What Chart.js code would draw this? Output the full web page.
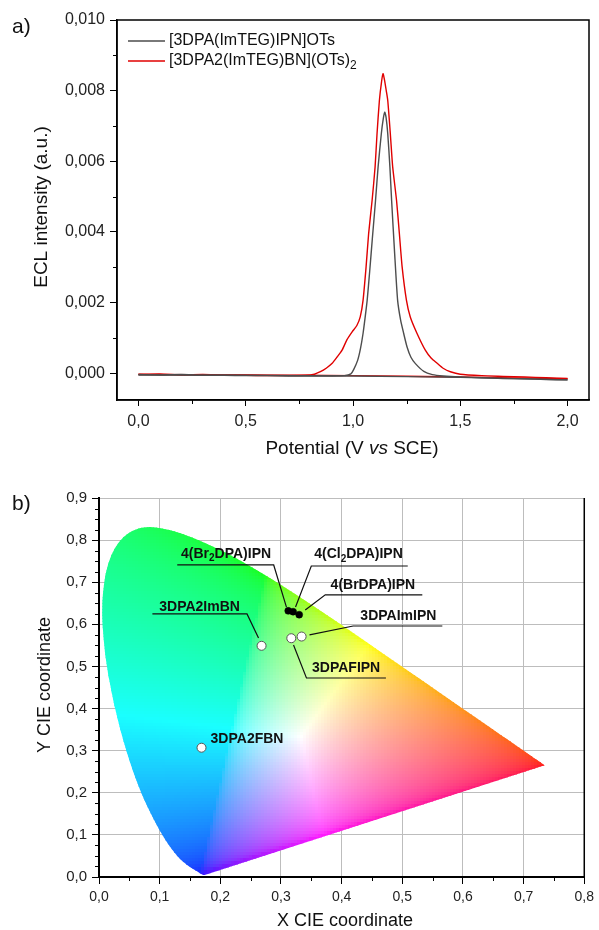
<!DOCTYPE html>
<html>
<head>
<meta charset="utf-8">
<script src="https://cdn.jsdelivr.net/npm/chart.js@4.4.0/dist/chart.umd.min.js"></script>
<style>
  html, body { margin: 0; padding: 0; background: #fff; }
  .wrap { position: relative; width: 599px; height: 930px; }
  .box { position: absolute; left: 0; width: 599px; height: 465px; }
</style>
</head>
<body>
<div class="wrap">
  <div class="box" style="top:0"><canvas id="eclChart" width="599" height="465"></canvas></div>
  <div class="box" style="top:465px"><canvas id="cieChart" width="599" height="465"></canvas></div>
</div>
<script>
const FONT = "'Liberation Sans', Arial, sans-serif";

// ---- a) ECL curves, intensities in 10^-3 a.u.
const ECL_UNIT = 1e-3;
const grayPotential = [0.00, 0.10, 0.20, 0.30, 0.40, 0.50, 0.60, 0.70, 0.80, 0.90, 0.96, 0.99, 1.003, 1.022, 1.035, 1.047, 1.056, 1.066, 1.078, 1.090, 1.105, 1.117, 1.132, 1.141, 1.148, 1.154, 1.162, 1.172, 1.180, 1.194, 1.208, 1.222, 1.236, 1.252, 1.270, 1.291, 1.330, 1.37, 1.42, 1.50, 1.60, 1.70, 1.80, 1.90, 2.00];
const grayIntensity = [-0.04, -0.05, -0.04, -0.06, -0.06, -0.07, -0.07, -0.08, -0.08, -0.08, -0.07, -0.02, 0.10, 0.37, 0.70, 1.13, 1.55, 2.06, 2.90, 3.80, 4.89, 5.84, 6.78, 7.20, 7.39, 7.25, 6.78, 5.84, 4.89, 3.40, 2.06, 1.50, 1.13, 0.74, 0.45, 0.27, 0.05, -0.04, -0.08, -0.11, -0.13, -0.15, -0.16, -0.18, -0.19];
const grayReturnPotential = [2.00, 1.50, 1.00, 0.50, 0.00];
const grayReturnIntensity = [-0.19, -0.12, -0.08, -0.06, -0.05];

const redPotential = [0.00, 0.10, 0.20, 0.30, 0.40, 0.50, 0.60, 0.70, 0.78, 0.82, 0.848, 0.875, 0.903, 0.925, 0.949, 0.972, 0.996, 1.018, 1.034, 1.047, 1.061, 1.073, 1.089, 1.103, 1.112, 1.123, 1.133, 1.140, 1.147, 1.155, 1.162, 1.174, 1.185, 1.203, 1.216, 1.229, 1.249, 1.267, 1.298, 1.337, 1.365, 1.392, 1.42, 1.454, 1.50, 1.60, 1.70, 1.80, 1.90, 2.00];
const redIntensity = [-0.03, -0.02, -0.05, -0.04, -0.06, -0.06, -0.07, -0.07, -0.06, -0.03, 0.04, 0.14, 0.28, 0.45, 0.65, 0.95, 1.17, 1.35, 1.60, 2.07, 3.01, 3.96, 4.89, 5.84, 6.78, 7.72, 8.25, 8.48, 8.30, 8.00, 7.72, 6.78, 5.84, 4.89, 3.96, 3.01, 2.07, 1.59, 1.13, 0.65, 0.42, 0.28, 0.14, 0.04, -0.03, -0.07, -0.09, -0.11, -0.13, -0.15];
const redReturnPotential = [2.00, 1.50, 1.00, 0.50, 0.00];
const redReturnIntensity = [-0.16, -0.11, -0.07, -0.05, -0.04];

const eclNames = ['[3DPA(ImTEG)IPN]OTs', '[3DPA2(ImTEG)BN](OTs)_2'];
const eclXTicks = [0, 0.5, 1.0, 1.5, 2.0];
const eclXMinor = [0.25, 0.75, 1.25, 1.75];
const eclYTicks = [0, 0.002, 0.004, 0.006, 0.008, 0.010];
const eclYMinor = [0.001, 0.003, 0.005, 0.007, 0.009];

// ---- b) CIE 1931 diagram
const locusX = [0.1741, 0.1740, 0.1738, 0.1736, 0.1733, 0.1730, 0.1726, 0.1721, 0.1714, 0.1703, 0.1689, 0.1669, 0.1644, 0.1611, 0.1566, 0.1510, 0.1440, 0.1355, 0.1241, 0.1096, 0.0913, 0.0687, 0.0454, 0.0235, 0.0082, 0.0039, 0.0139, 0.0389, 0.0743, 0.1142, 0.1547, 0.1929, 0.2296, 0.2658, 0.3016, 0.3373, 0.3731, 0.4087, 0.4441, 0.4788, 0.5125, 0.5448, 0.5752, 0.6029, 0.6270, 0.6482, 0.6658, 0.6801, 0.6915, 0.7006, 0.7079, 0.7140, 0.7190, 0.7230, 0.7260, 0.7283, 0.7300, 0.7311, 0.7320, 0.7334, 0.7347];
const locusY = [0.0050, 0.0050, 0.0049, 0.0049, 0.0048, 0.0048, 0.0048, 0.0048, 0.0051, 0.0058, 0.0069, 0.0086, 0.0109, 0.0138, 0.0177, 0.0227, 0.0297, 0.0399, 0.0578, 0.0868, 0.1327, 0.2007, 0.2950, 0.4127, 0.5384, 0.6548, 0.7502, 0.8120, 0.8338, 0.8262, 0.8059, 0.7816, 0.7543, 0.7243, 0.6923, 0.6589, 0.6245, 0.5896, 0.5547, 0.5202, 0.4866, 0.4544, 0.4242, 0.3965, 0.3725, 0.3514, 0.3340, 0.3197, 0.3083, 0.2993, 0.2920, 0.2859, 0.2809, 0.2770, 0.2740, 0.2717, 0.2700, 0.2689, 0.2680, 0.2666, 0.2653];

const solidNames = ['4(Br_2DPA)IPN', '4(Cl_2DPA)IPN', '4(BrDPA)IPN'];
const solidX = [0.312, 0.320, 0.330];
const solidY = [0.632, 0.630, 0.623];
const openNames = ['3DPA2ImBN', '3DPAFIPN', '3DPAImIPN', '3DPA2FBN'];
const openX = [0.268, 0.317, 0.334, 0.169];
const openY = [0.549, 0.567, 0.571, 0.307];

const cieXTicks = [0, 0.1, 0.2, 0.3, 0.4, 0.5, 0.6, 0.7, 0.8];
const cieYTicks = [0, 0.1, 0.2, 0.3, 0.4, 0.5, 0.6, 0.7, 0.8, 0.9];

// where each callout sits (data units): text centre, then the leader line
const calloutLayout = {
  '4(Br_2DPA)IPN': { at: [0.2095, 0.767], line: [[0.129, 0.741], [0.288, 0.741], [0.309, 0.641]] },
  '4(Cl_2DPA)IPN': { at: [0.4278, 0.7656], line: [[0.509, 0.7385], [0.350, 0.7385], [0.324, 0.641]] },
  '4(BrDPA)IPN': { at: [0.4515, 0.694], line: [[0.533, 0.670], [0.373, 0.670], [0.340, 0.634]] },
  '3DPAImIPN': { at: [0.4935, 0.6206], line: [[0.566, 0.596], [0.419, 0.596], [0.347, 0.575]] },
  '3DPAFIPN': { at: [0.4074, 0.4962], line: [[0.473, 0.4726], [0.342, 0.4726], [0.3207, 0.551]] },
  '3DPA2ImBN': { at: [0.1658, 0.6407], line: [[0.088, 0.6246], [0.244, 0.6246], [0.263, 0.5675]] },
  '3DPA2FBN': { at: [0.2440, 0.3264], line: [] }
};

function comma(v, d) {
  return v.toFixed(d).replace('.', ',');
}

function toPoints(xs, ys, k) {
  return xs.map((v, i) => ({ x: v, y: ys[i] * k }));
}

// text with "_2" style subscripts
function drawRich(ctx, str, x, y, size, weight, align) {
  const parts = str.split(/_(\d)/);
  const mainFont = weight + ' ' + size + 'px ' + FONT;
  const subFont = weight + ' ' + Math.round(size * 0.72) + 'px ' + FONT;
  let w = 0;
  parts.forEach((p, i) => {
    ctx.font = i % 2 ? subFont : mainFont;
    w += ctx.measureText(p).width;
  });
  let cx = align === 'center' ? x - w / 2 : x;
  ctx.textAlign = 'left';
  ctx.textBaseline = 'middle';
  parts.forEach((p, i) => {
    ctx.font = i % 2 ? subFont : mainFont;
    ctx.fillText(p, cx, y + (i % 2 ? size * 0.32 : 0));
    cx += ctx.measureText(p).width;
  });
}

const eclDecor = {
  id: 'eclDecor',
  afterDraw(chart) {
    const { ctx, chartArea: a, scales: { x, y } } = chart;
    ctx.save();
    ctx.strokeStyle = '#000';
    ctx.lineWidth = 1.5;
    ctx.strokeRect(a.left, a.top, a.right - a.left, a.bottom - a.top);

    ctx.lineWidth = 1;
    ctx.beginPath();
    eclXMinor.forEach(v => {
      const px = Math.round(x.getPixelForValue(v)) + 0.5;
      ctx.moveTo(px, a.bottom); ctx.lineTo(px, a.bottom + 4);
    });
    eclYMinor.forEach(v => {
      const py = Math.round(y.getPixelForValue(v)) + 0.5;
      ctx.moveTo(a.left, py); ctx.lineTo(a.left - 4, py);
    });
    ctx.stroke();

    // legend
    const cols = ['#4d4d4d', '#e00000'];
    eclNames.forEach((n, i) => {
      const ly = a.top + 21 + i * 20;
      ctx.strokeStyle = cols[i];
      ctx.lineWidth = 1.5;
      ctx.beginPath(); ctx.moveTo(a.left + 11, ly); ctx.lineTo(a.left + 48, ly); ctx.stroke();
      ctx.fillStyle = '#111';
      drawRich(ctx, n, a.left + 52, ly, 16, 'normal', 'left');
    });

    // axis titles
    ctx.fillStyle = '#111';
    ctx.save();
    ctx.translate(42, 207);
    ctx.rotate(-Math.PI / 2);
    ctx.font = '19px ' + FONT;
    ctx.textAlign = 'center';
    ctx.textBaseline = 'middle';
    ctx.fillText('ECL intensity (a.u.)', 0, 0);
    ctx.restore();

    const pieces = [['Potential (V ', 'normal'], ['vs', 'italic'], [' SCE)', 'normal']];
    let tw = 0;
    pieces.forEach(p => { ctx.font = p[1] + ' 19px ' + FONT; tw += ctx.measureText(p[0]).width; });
    let tx = 352 - tw / 2;
    ctx.textAlign = 'left';
    ctx.textBaseline = 'middle';
    pieces.forEach(p => {
      ctx.font = p[1] + ' 19px ' + FONT;
      ctx.fillText(p[0], tx, 449);
      tx += ctx.measureText(p[0]).width;
    });

    ctx.font = '21px ' + FONT;
    ctx.textBaseline = 'alphabetic';
    ctx.fillText('a)', 12, 33);
    ctx.restore();
  }
};

new Chart(document.getElementById('eclChart'), {
  type: 'scatter',
  data: {
    datasets: [
      { label: eclNames[0], data: toPoints(grayPotential, grayIntensity, ECL_UNIT), borderColor: '#4d4d4d' },
      { label: '', data: toPoints(grayReturnPotential, grayReturnIntensity, ECL_UNIT), borderColor: '#4d4d4d' },
      { label: eclNames[1], data: toPoints(redPotential, redIntensity, ECL_UNIT), borderColor: '#e00000' },
      { label: '', data: toPoints(redReturnPotential, redReturnIntensity, ECL_UNIT), borderColor: '#e00000' }
    ].map(d => Object.assign(d, { showLine: true, pointRadius: 0, borderWidth: 1.4, tension: 0.2 }))
  },
  options: {
    responsive: false,
    animation: false,
    layout: { padding: { top: 20, right: 10, left: 0, bottom: 0 } },
    plugins: { legend: { display: false }, tooltip: { enabled: false } },
    scales: {
      x: {
        type: 'linear', min: -0.1, max: 2.1,
        afterFit: s => { s.height = 65; },
        afterBuildTicks: s => { s.ticks = eclXTicks.map(v => ({ value: v })); },
        grid: { drawOnChartArea: false, tickLength: 6, tickColor: '#000', tickWidth: 1 },
        border: { color: '#000', width: 1.5 },
        ticks: { autoSkip: false, maxRotation: 0, padding: 6, color: '#222', font: { family: FONT, size: 16 }, callback: v => comma(v, 1) }
      },
      y: {
        type: 'linear', min: -0.00076, max: 0.010,
        afterFit: s => { s.width = 117; },
        afterBuildTicks: s => { s.ticks = eclYTicks.map(v => ({ value: v })); },
        grid: { drawOnChartArea: false, tickLength: 7, tickColor: '#000', tickWidth: 1 },
        border: { color: '#000', width: 1.5 },
        ticks: { autoSkip: false, padding: 5, color: '#222', font: { family: FONT, size: 16 }, callback: v => comma(v, 3) }
      }
    }
  },
  plugins: [eclDecor]
});

// ---- b) helpers: xy chromaticity -> CIE RGB (E white), clipped and normalised
function cieColor(x, y) {
  const X = x / y, Z = (1 - x - y) / y;
  let r = 2.3707 * X - 0.9000 - 0.4706 * Z;
  let g = -0.5139 * X + 1.4253 + 0.0886 * Z;
  let b = 0.0053 * X - 0.0147 + 1.0094 * Z;
  r = Math.max(r, 0); g = Math.max(g, 0); b = Math.max(b, 0);
  const m = Math.max(r, g, b, 1e-6);
  const gam = v => {
    v = v / m;
    v = v <= 0.0031308 ? 12.92 * v : 1.055 * Math.pow(v, 1 / 2.4) - 0.055;
    return Math.round(255 * (0.9 * v + 0.1));
  };
  return 'rgb(' + gam(r) + ',' + gam(g) + ',' + gam(b) + ')';
}

const cieFill = {
  id: 'cieFill',
  beforeDatasetsDraw(chart) {
    const { ctx, chartArea: a, scales: { x, y } } = chart;
    const pts = locusX.map((v, i) => [x.getPixelForValue(v), y.getPixelForValue(locusY[i])]);
    ctx.save();
    ctx.beginPath();
    ctx.moveTo(pts[0][0], pts[0][1]);
    for (let i = 1; i < pts.length - 1; i++) {
      const mx = (pts[i][0] + pts[i + 1][0]) / 2, my = (pts[i][1] + pts[i + 1][1]) / 2;
      ctx.quadraticCurveTo(pts[i][0], pts[i][1], mx, my);
    }
    ctx.lineTo(pts[pts.length - 1][0], pts[pts.length - 1][1]);
    ctx.closePath();
    ctx.clip();
    const cell = 3;
    for (let px = a.left; px < a.right; px += cell) {
      for (let py = a.top; py < a.bottom; py += cell) {
        const cx = x.getValueForPixel(px + cell / 2);
        const cy = Math.max(y.getValueForPixel(py + cell / 2), 0.004);
        ctx.fillStyle = cieColor(cx, cy);
        ctx.fillRect(px, py, cell + 0.6, cell + 0.6);
      }
    }
    ctx.restore();
  },
  afterDatasetsDraw(chart) {
    const { ctx, chartArea: a, scales: { x, y } } = chart;
    ctx.save();
    ctx.strokeStyle = '#111';
    ctx.lineWidth = 1.2;
    Object.keys(calloutLayout).forEach(name => {
      const c = calloutLayout[name];
      if (c.line.length) {
        ctx.beginPath();
        c.line.forEach((p, i) => {
          const px = x.getPixelForValue(p[0]), py = y.getPixelForValue(p[1]);
          i ? ctx.lineTo(px, py) : ctx.moveTo(px, py);
        });
        ctx.stroke();
      }
      ctx.fillStyle = '#111';
      drawRich(ctx, name, x.getPixelForValue(c.at[0]), y.getPixelForValue(c.at[1]), 14, 'bold', 'center');
    });
    ctx.restore();
  },
  afterDraw(chart) {
    const { ctx, chartArea: a, scales: { x, y } } = chart;
    ctx.save();
    ctx.strokeStyle = '#000';
    ctx.lineWidth = 1.5;
    ctx.beginPath(); ctx.moveTo(a.right, a.top); ctx.lineTo(a.right, a.bottom); ctx.stroke();

    // minor ticks
    ctx.lineWidth = 1;
    ctx.beginPath();
    for (let i = 0; i < cieXTicks.length - 1; i++) {
      const px = Math.round(x.getPixelForValue((cieXTicks[i] + cieXTicks[i + 1]) / 2)) + 0.5;
      ctx.moveTo(px, a.bottom); ctx.lineTo(px, a.bottom + 4);
    }
    for (let i = 0; i < cieYTicks.length - 1; i++) {
      for (let k = 1; k < 4; k++) {
        const v = cieYTicks[i] + (cieYTicks[i + 1] - cieYTicks[i]) * k / 4;
        const py = Math.round(y.getPixelForValue(v)) + 0.5;
        ctx.moveTo(a.left, py); ctx.lineTo(a.left - 4, py);
      }
    }
    ctx.stroke();

    ctx.fillStyle = '#111';
    ctx.font = '18px ' + FONT;
    ctx.textAlign = 'center';
    ctx.textBaseline = 'middle';
    ctx.fillText('X CIE coordinate', 345, 456);
    ctx.save();
    ctx.translate(45, 220);
    ctx.rotate(-Math.PI / 2);
    ctx.fillText('Y CIE coordinate', 0, 0);
    ctx.restore();

    ctx.textAlign = 'left';
    ctx.textBaseline = 'alphabetic';
    ctx.font = '21px ' + FONT;
    ctx.fillText('b)', 12, 45);
    ctx.restore();
  }
};

new Chart(document.getElementById('cieChart'), {
  type: 'scatter',
  data: {
    datasets: [
      { label: 'solid', data: toPoints(solidX, solidY, 1), pointRadius: 3.5, backgroundColor: '#000', borderColor: '#000', borderWidth: 0.5 },
      { label: 'open', data: toPoints(openX, openY, 1), pointRadius: 4.5, backgroundColor: '#fff', borderColor: '#555', borderWidth: 1 }
    ]
  },
  options: {
    responsive: false,
    animation: false,
    layout: { padding: { top: 33, right: 11, left: 0, bottom: 0 } },
    plugins: { legend: { display: false }, tooltip: { enabled: false } },
    scales: {
      x: {
        type: 'linear', min: 0, max: 0.8,
        afterFit: s => { s.height = 53; },
        afterBuildTicks: s => { s.ticks = cieXTicks.map(v => ({ value: v })); },
        grid: { color: '#bdbdbd', lineWidth: 1, tickLength: 7, tickColor: '#000', tickWidth: 1 },
        border: { color: '#000', width: 2 },
        ticks: { autoSkip: false, maxRotation: 0, padding: 5, color: '#222', font: { family: FONT, size: 14 }, callback: v => comma(v, 1) }
      },
      y: {
        type: 'linear', min: 0, max: 0.9,
        afterFit: s => { s.width = 99; },
        afterBuildTicks: s => { s.ticks = cieYTicks.map(v => ({ value: v })); },
        grid: { color: '#bdbdbd', lineWidth: 1, tickLength: 7, tickColor: '#000', tickWidth: 1 },
        border: { color: '#000', width: 2 },
        ticks: { autoSkip: false, padding: 5, color: '#222', font: { family: FONT, size: 15 }, callback: v => comma(v, 1) }
      }
    }
  },
  plugins: [cieFill]
});
</script>
</body>
</html>
